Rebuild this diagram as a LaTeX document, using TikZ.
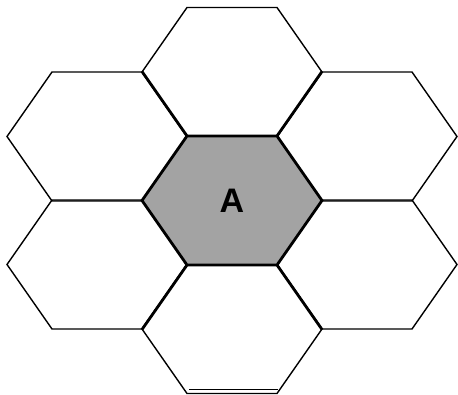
\documentclass[tikz,border=0pt]{standalone}
\usepackage{fontspec}
\setmainfont{Liberation Sans}
\usetikzlibrary{calc}

\begin{document}
\begin{tikzpicture}[x=1pt, y=-1pt,
  cellline/.style={draw=black, line width=1.4pt, line join=miter},
  coreline/.style={draw=black, line width=2.8pt, line join=miter},
  corefill/.style={fill=black!36}
]
\useasboundingbox (0,0) rectangle (458,395);

% -------- outer ring of cells --------
\foreach \cx/\cy in {232/72, 97/136.5, 367/136.5, 97/264.5, 367/264.5, 232/329}{
  \draw[cellline] (\cx+90,\cy) -- (\cx+45,\cy-64.5) -- (\cx-45,\cy-64.5)
    -- (\cx-90,\cy) -- (\cx-45,\cy+64.5) -- (\cx+45,\cy+64.5) -- cycle;
}

% -------- centre cell A --------
\coordinate (core) at (232,200.5);
\draw[coreline, corefill] ($(core)+(90,0)$) -- ($(core)+(45,-64.5)$)
  -- ($(core)+(-45,-64.5)$) -- ($(core)+(-90,0)$)
  -- ($(core)+(-45,64.5)$) -- ($(core)+(45,64.5)$) -- cycle;
\node[font=\fontsize{34}{34}\selectfont\bfseries] (labelA) at (core) {A};

% -------- heavy spokes out of A --------
\draw[coreline] ($(core)+(-45,-64.5)$) -- ($(core)+(-90,-129)$);
\draw[coreline] ($(core)+(45,-64.5)$) -- ($(core)+(90,-129)$);
\draw[coreline] ($(core)+(-45,64.5)$) -- ($(core)+(-90,129)$);
\draw[coreline] ($(core)+(45,64.5)$) -- ($(core)+(90,129)$);

% second line on the bottom edge
\draw[line width=0.7pt] (189,389) -- (278,389);

\end{tikzpicture}
\end{document}
